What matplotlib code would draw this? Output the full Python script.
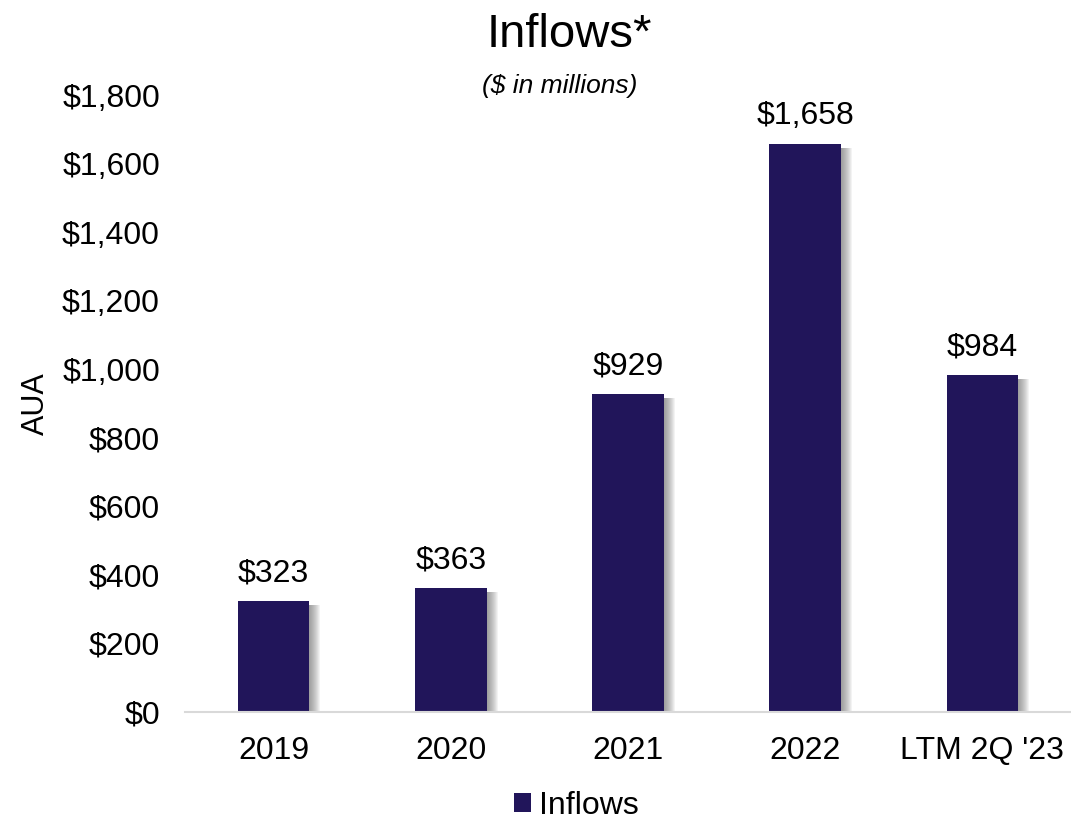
import matplotlib.pyplot as plt
import numpy as np
from matplotlib.patches import Patch

# === Data ===
categories = ["2019", "2020", "2021", "2022", "LTM 2Q '23"]
inflows = [323, 363, 929, 1658, 984]
yticks = [0, 200, 400, 600, 800, 1000, 1200, 1400, 1600, 1800]

bar_color = "#21155A"
plt.rcParams['font.family'] = ['Liberation Sans', 'DejaVu Sans']

fig = plt.figure(figsize=(10.71, 8.22), dpi=100)
ax = fig.add_axes([0.1727, 0.1338, 0.8273, 0.7506])

x = np.arange(len(categories))
width = 0.405
px = 1.0 / 177.0  # one pixel in x data units

# soft shadow to the right of each bar (stacked translucent layers)
for k in range(1, 12):
    ax.bar(x + k * px, [v - 12 for v in inflows], width=width, color="#606060",
           alpha=0.075, zorder=1, linewidth=0)

ax.bar(x, inflows, width=width, color=bar_color, zorder=2, linewidth=0)

for xi, v in zip(x, inflows):
    ax.text(xi, v + 36, f"${v:,}", ha="center", va="bottom", fontsize=23,
            clip_on=False)

ax.set_xlim(-0.5, len(categories) - 0.5)
ax.set_ylim(0, 1800)
ax.set_yticks(yticks)
ax.set_yticklabels([f"${t:,}" for t in yticks], fontsize=23)
ax.set_xticks(x)
ax.set_xticklabels(categories, fontsize=23)
ax.tick_params(axis="x", length=0, pad=17)
ax.tick_params(axis="y", length=0, pad=18)

for s in ["top", "right", "left"]:
    ax.spines[s].set_visible(False)
ax.spines["bottom"].set_color("#D9D9D9")
ax.spines["bottom"].set_linewidth(1.5)

ax.set_ylabel("AUA", fontsize=22, labelpad=8)

fig.text(0.532, 0.958, "Inflows*", ha="center", va="center", fontsize=34)
fig.text(0.523, 0.895, "($ in millions)", ha="center", va="center",
         fontsize=19, style="italic")

legend_elements = [Patch(facecolor=bar_color, edgecolor='none', label='Inflows')]
fig.legend(handles=legend_elements, loc="center", bbox_to_anchor=(0.538, 0.02),
           frameon=False, fontsize=23, handlelength=0.55, handleheight=0.55,
           handletextpad=0.25, borderpad=0.1)

plt.savefig("out.png", dpi=100, facecolor="white")
